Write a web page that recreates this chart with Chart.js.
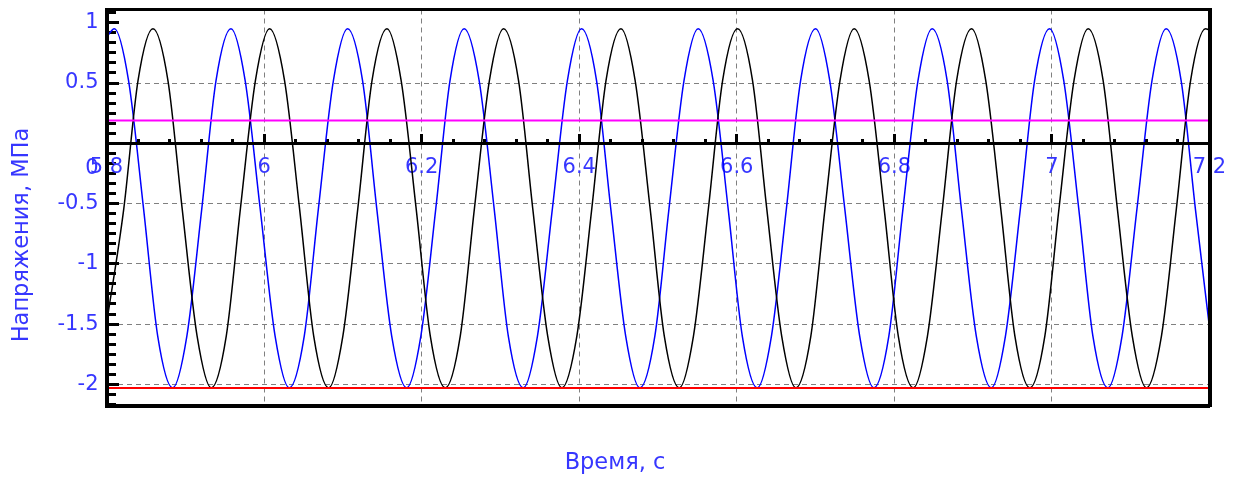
<!DOCTYPE html>
<html>
<head>
<meta charset="utf-8">
<title>Напряжения</title>
<script src="https://cdn.jsdelivr.net/npm/chart.js@4/dist/chart.umd.min.js"></script>
<style>
  html, body { margin: 0; padding: 0; background: #ffffff; }
  canvas { display: block; }
</style>
</head>
<body>
<canvas id="chart" width="1244" height="481"></canvas>
<script>
// Time axis tick labels (s) and stress axis tick labels (MPa)
const xTicks = [5.8, 6.0, 6.2, 6.4, 6.6, 6.8, 7.0, 7.2];
const yTicks = [-2, -1.5, -1, -0.5, 0, 0.5, 1];

// Stress, channel 1 (blue): time, s
const stressA_t = [
  5.800, 5.810, 5.828, 5.847, 5.865, 5.884, 5.902, 5.921, 5.939,
  5.958, 5.976, 5.995, 6.014, 6.032, 6.051, 6.069, 6.088,
  6.106, 6.125, 6.143, 6.162, 6.181, 6.199, 6.218, 6.236,
  6.254, 6.273, 6.292, 6.310, 6.329, 6.347, 6.366, 6.385,
  6.403, 6.422, 6.440, 6.459, 6.477, 6.496, 6.514, 6.533,
  6.551, 6.570, 6.589, 6.607, 6.626, 6.644, 6.663, 6.681,
  6.700, 6.718, 6.737, 6.756, 6.774, 6.793, 6.811, 6.830,
  6.848, 6.867, 6.885, 6.904, 6.923, 6.941, 6.960, 6.978,
  6.997, 7.015, 7.034, 7.052, 7.071, 7.089, 7.108, 7.127,
  7.145, 7.164, 7.182, 7.200
];
// Stress, channel 1 (blue): MPa
const stressA = [
  0.88, 0.95, 0.52, -0.54, -1.60, -2.03, -1.60, -0.54, 0.52,
  0.95, 0.52, -0.54, -1.60, -2.03, -1.60, -0.54, 0.52,
  0.95, 0.52, -0.54, -1.60, -2.03, -1.60, -0.54, 0.52,
  0.95, 0.52, -0.54, -1.60, -2.03, -1.60, -0.54, 0.52,
  0.95, 0.52, -0.54, -1.60, -2.03, -1.60, -0.54, 0.52,
  0.95, 0.52, -0.54, -1.60, -2.03, -1.60, -0.54, 0.52,
  0.95, 0.52, -0.54, -1.60, -2.03, -1.60, -0.54, 0.52,
  0.95, 0.52, -0.54, -1.60, -2.03, -1.60, -0.54, 0.52,
  0.95, 0.52, -0.54, -1.60, -2.03, -1.60, -0.54, 0.52,
  0.95, 0.52, -0.54, -1.53
];

// Stress, channel 2 (black): time, s
const stressB_t = [
  5.800, 5.822, 5.840,
  5.859, 5.878, 5.896, 5.915, 5.933, 5.952, 5.970, 5.989,
  6.007, 6.026, 6.045, 6.063, 6.082, 6.100, 6.119, 6.137,
  6.156, 6.174, 6.193, 6.211, 6.230, 6.249, 6.267, 6.286,
  6.304, 6.323, 6.341, 6.360, 6.378, 6.397, 6.416, 6.434,
  6.453, 6.471, 6.490, 6.508, 6.527, 6.545, 6.564, 6.582,
  6.601, 6.620, 6.638, 6.657, 6.675, 6.694, 6.712, 6.731,
  6.749, 6.768, 6.787, 6.805, 6.824, 6.842, 6.861, 6.879,
  6.898, 6.916, 6.935, 6.953, 6.972, 6.991, 7.009, 7.028,
  7.046, 7.065, 7.083, 7.102, 7.120, 7.139, 7.158, 7.176,
  7.195, 7.200
];
// Stress, channel 2 (black): MPa
const stressB = [
  -1.50, -0.54, 0.52,
  0.95, 0.52, -0.54, -1.60, -2.03, -1.60, -0.54, 0.52,
  0.95, 0.52, -0.54, -1.60, -2.03, -1.60, -0.54, 0.52,
  0.95, 0.52, -0.54, -1.60, -2.03, -1.60, -0.54, 0.52,
  0.95, 0.52, -0.54, -1.60, -2.03, -1.60, -0.54, 0.52,
  0.95, 0.52, -0.54, -1.60, -2.03, -1.60, -0.54, 0.52,
  0.95, 0.52, -0.54, -1.60, -2.03, -1.60, -0.54, 0.52,
  0.95, 0.52, -0.54, -1.60, -2.03, -1.60, -0.54, 0.52,
  0.95, 0.52, -0.54, -1.60, -2.03, -1.60, -0.54, 0.52,
  0.95, 0.52, -0.54, -1.60, -2.03, -1.60, -0.54, 0.52,
  0.95, 0.94
];

// Reference levels, MPa
const upperLevel = 0.19;
const lowerLevel = -2.03;

const X_MIN = 5.8, X_MAX = 7.2;
const Y_MIN = -2.18, Y_MAX = 1.11;
const FAMILY = 'DejaVu Sans';
const TEXT = '#3636ff';
const TICK_FONT = { family: FAMILY, size: 21, weight: 'normal' };
const GRID = '#808080';
const DASH = [5, 4];

Chart.defaults.font.family = FAMILY;

const toPoints = (ts, vs) => ts.map((t, i) => ({ x: t, y: vs[i] }));
const flat = v => [{ x: X_MIN, y: v }, { x: X_MAX, y: v }];

// scales placed on the zero line or the frame carry no layout margins
const noPad = s => { s.paddingLeft = 0; s.paddingRight = 0; s.paddingTop = 0; s.paddingBottom = 0; };

// unlabelled inner tick marks
const yMinorTicks = [];
for (let k = -26; k <= 13; k++) yMinorTicks.push(k / 12);
const xMinorTicks = [];
for (let k = 0; k <= 35; k++) xMinorTicks.push(X_MIN + k * 0.04);

const lineDefaults = {
  pointRadius: 0,
  pointHoverRadius: 0,
  fill: false,
  xAxisID: 'x',
  yAxisID: 'y'
};

new Chart(document.getElementById('chart'), {
  type: 'line',
  data: {
    datasets: [
      Object.assign({ label: 'Верхний уровень', data: flat(upperLevel), borderColor: '#ff00ff', borderWidth: 2 }, lineDefaults),
      Object.assign({ label: 'Нижний уровень', data: flat(lowerLevel), borderColor: '#ff0000', borderWidth: 2 }, lineDefaults),
      Object.assign({ label: 'Канал 2', data: toPoints(stressB_t, stressB), borderColor: '#000000', borderWidth: 1.5, cubicInterpolationMode: 'monotone' }, lineDefaults),
      Object.assign({ label: 'Канал 1', data: toPoints(stressA_t, stressA), borderColor: '#0000ff', borderWidth: 1.5, cubicInterpolationMode: 'monotone' }, lineDefaults)
    ]
  },
  options: {
    responsive: false,
    animation: false,
    devicePixelRatio: 1,
    events: [],
    layout: { padding: { left: 0, top: 0, right: 14, bottom: 11 } },
    plugins: {
      legend: { display: false },
      tooltip: { enabled: false },
      title: {
        display: true,
        position: 'left',
        text: 'Напряжения, МПа',
        color: TEXT,
        font: { family: FAMILY, size: 22.5, weight: 'normal', lineHeight: '27px' },
        padding: { top: 8.5, bottom: 0 }
      },
      subtitle: {
        display: true,
        position: 'bottom',
        text: 'Время, с',
        color: TEXT,
        font: { family: FAMILY, size: 22.5, weight: 'normal', lineHeight: '14px' },
        padding: { top: 50, bottom: 0 }
      }
    },
    scales: {
      x: {
        type: 'linear',
        axis: 'x',
        position: { y: 0 },
        min: X_MIN,
        max: X_MAX,
        afterBuildTicks: s => { s.ticks = xTicks.map(v => ({ value: v })); },
        afterFit: noPad,
        ticks: {
          autoSkip: false,
          maxRotation: 0,
          padding: 23,
          color: TEXT,
          font: TICK_FONT,
          callback: v => String(Math.round(v * 10) / 10)
        },
        grid: { color: GRID, lineWidth: 1, drawTicks: true, tickLength: -11, tickWidth: 3, tickColor: '#000000' },
        border: { display: true, color: '#000000', width: 3, dash: DASH, z: 1 }
      },
      y: {
        type: 'linear',
        axis: 'y',
        position: 'left',
        min: Y_MIN,
        max: Y_MAX,
        afterBuildTicks: s => { s.ticks = yTicks.map(v => ({ value: v })); },
        afterFit: s => { s.width = 71; noPad(s); },
        ticks: {
          autoSkip: false,
          padding: 8,
          color: TEXT,
          font: TICK_FONT,
          callback: v => (v === 0 ? ['', '', '0'] : String(v))
        },
        grid: {
          color: ctx => (ctx.tick && ctx.tick.value === 1 ? 'rgba(0,0,0,0)' : GRID),
          lineWidth: 1,
          drawTicks: false
        },
        border: { display: true, color: '#000000', width: 4, dash: DASH, z: 1 }
      },
      yMaj: {
        type: 'linear',
        axis: 'y',
        position: { x: X_MIN },
        min: Y_MIN,
        max: Y_MAX,
        afterBuildTicks: s => { s.ticks = yTicks.map(v => ({ value: v })); },
        afterFit: noPad,
        ticks: { display: false },
        grid: { drawOnChartArea: false, drawTicks: true, tickLength: -12, tickWidth: 3, tickColor: '#000000' },
        border: { display: false }
      },
      yMin: {
        type: 'linear',
        axis: 'y',
        position: { x: X_MIN },
        min: Y_MIN,
        max: Y_MAX,
        afterBuildTicks: s => { s.ticks = yMinorTicks.map(v => ({ value: v })); },
        afterFit: noPad,
        ticks: { display: false },
        grid: { drawOnChartArea: false, drawTicks: true, tickLength: -9, tickWidth: 3, tickColor: '#000000' },
        border: { display: false }
      },
      xMinor: {
        type: 'linear',
        axis: 'x',
        position: { y: 0 },
        min: X_MIN,
        max: X_MAX,
        afterBuildTicks: s => { s.ticks = xMinorTicks.map(v => ({ value: v })); },
        afterFit: noPad,
        ticks: { display: false },
        grid: { drawOnChartArea: false, drawTicks: true, tickLength: -4, tickWidth: 3, tickColor: '#000000' },
        border: { display: false }
      },
      xTop: {
        type: 'linear',
        axis: 'x',
        position: 'top',
        min: X_MIN,
        max: X_MAX,
        ticks: { display: false },
        grid: { display: false },
        border: { display: true, color: '#000000', width: 3, z: 1 },
        afterFit: s => { s.height = 9.5; noPad(s); }
      },
      xBot: {
        type: 'linear',
        axis: 'x',
        position: 'bottom',
        min: X_MIN,
        max: X_MAX,
        ticks: { display: false },
        grid: { display: false },
        border: { display: true, color: '#000000', width: 4, z: 1 },
        afterFit: s => { s.height = 0; noPad(s); }
      },
      yR: {
        type: 'linear',
        axis: 'y',
        position: 'right',
        min: Y_MIN,
        max: Y_MAX,
        ticks: { display: false },
        grid: { display: false },
        border: { display: true, color: '#000000', width: 4, z: 1 },
        afterFit: s => { s.width = 20.5; noPad(s); }
      }
    }
  }
});
</script>
</body>
</html>
